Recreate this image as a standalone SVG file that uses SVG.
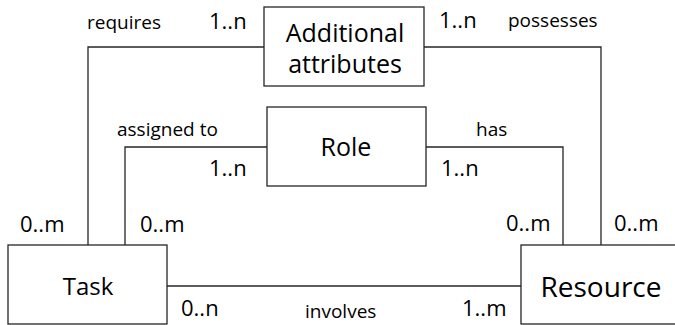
<svg xmlns="http://www.w3.org/2000/svg" width="675" height="325" viewBox="0 0 675 325">
  <style>
    .box { fill: #ffffff; stroke: #262626; stroke-width: 1.3; }
    .link { fill: none; stroke: #262626; stroke-width: 1.3; }
    text { font-family: "Open Sans", "Noto Sans", "Liberation Sans", sans-serif; fill: #000000; }
    .name { font-size: 25px; text-anchor: middle; }
    .rel { font-size: 19px; }
    .card { font-size: 22px; }
  </style>
  <rect width="675" height="325" fill="#ffffff"/>

  <!-- relationship lines -->
  <g id="connectors">
    <path class="link" d="M264,47 H88 V245"/>
    <path class="link" d="M424,47 H601 V245"/>
    <path class="link" d="M267,147 H125 V246"/>
    <path class="link" d="M426,147 H563 V245"/>
    <path class="link" d="M167,286 H521"/>
  </g>

  <!-- relationship names -->
  <g id="relation-labels">
    <text class="rel" x="87" y="29">requires</text>
    <text class="rel" x="508" y="27">possesses</text>
    <text class="rel" x="117" y="136">assigned to</text>
    <text class="rel" x="476" y="136">has</text>
    <text class="rel" x="305" y="318">involves</text>
  </g>

  <!-- cardinalities -->
  <g id="cardinalities">
    <text class="card" x="209" y="29">1..n</text>
    <text class="card" x="439" y="28">1..n</text>
    <text class="card" x="209" y="176">1..n</text>
    <text class="card" x="441" y="176">1..n</text>
    <text class="card" x="20" y="232">0..m</text>
    <text class="card" x="140" y="232">0..m</text>
    <text class="card" x="506" y="231">0..m</text>
    <text class="card" x="614" y="231">0..m</text>
    <text class="card" x="181" y="316">0..n</text>
    <text class="card" x="462" y="316">1..m</text>
  </g>

  <g id="additional-attributes">
    <rect class="box" x="264" y="7" width="160" height="79"/>
    <text class="name" x="345" y="42">Additional</text>
    <text class="name" x="345" y="73">attributes</text>
  </g>

  <g id="role">
    <rect class="box" x="267" y="107" width="159" height="79"/>
    <text class="name" x="346" y="156">Role</text>
  </g>

  <g id="task">
    <rect class="box" x="8" y="245" width="159" height="79"/>
    <text class="name" x="88" y="295" style="font-size:24px">Task</text>
  </g>

  <g id="resource">
    <rect class="box" x="521" y="245" width="170" height="79"/>
    <text class="name" x="601" y="297" style="font-size:28px">Resource</text>
  </g>
</svg>
